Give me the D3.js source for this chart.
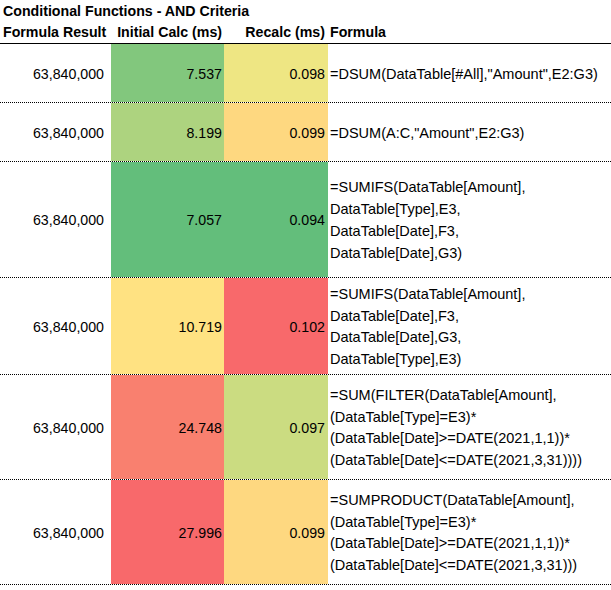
<!DOCTYPE html>
<html>
<head>
<meta charset="utf-8">
<script src="https://cdn.jsdelivr.net/npm/d3@7"></script>
<style>
  html, body { margin: 0; padding: 0; background: #fff; }
  svg { display: block; }
  text { font-family: "Liberation Sans", Arial, sans-serif; fill: #000; }
</style>
</head>
<body>
<svg id="chart" width="611" height="590"></svg>
<script>
// ---- data ----
const title = "Conditional Functions - AND Criteria";
const headers = ["Formula Result", "Initial Calc (ms)", "Recalc (ms)", "Formula"];
const formulaResults = [63840000, 63840000, 63840000, 63840000, 63840000, 63840000];
const initialCalc = [7.537, 8.199, 7.057, 10.719, 24.748, 27.996];
const recalc = [0.098, 0.099, 0.094, 0.102, 0.097, 0.099];
const formulas = [
  ["=DSUM(DataTable[#All],\"Amount\",E2:G3)"],
  ["=DSUM(A:C,\"Amount\",E2:G3)"],
  ["=SUMIFS(DataTable[Amount],", "DataTable[Type],E3,", "DataTable[Date],F3,", "DataTable[Date],G3)"],
  ["=SUMIFS(DataTable[Amount],", "DataTable[Date],F3,", "DataTable[Date],G3,", "DataTable[Type],E3)"],
  ["=SUM(FILTER(DataTable[Amount],", "(DataTable[Type]=E3)*", "(DataTable[Date]>=DATE(2021,1,1))*", "(DataTable[Date]<=DATE(2021,3,31))))"],
  ["=SUMPRODUCT(DataTable[Amount],", "(DataTable[Type]=E3)*", "(DataTable[Date]>=DATE(2021,1,1))*", "(DataTable[Date]<=DATE(2021,3,31)))"]
];

// ---- layout (positions / styles) ----
const W = 611, H = 590;
const fontSize = 14.2;
const formulaFontSize = 14.5;
const columns = ["result", "initial", "recalc", "formula"];
const colLeft = [0, 111, 224, 328];
const colRight = [111, 224, 328, 611];
const rowHeights = [59, 59, 116, 97, 105, 105];
const headerLineY = 43;
const lineSpacing = 21.7;
const colorStops = ["#63BE7B", "#FFEB84", "#F8696B"];

const svg = d3.select("#chart");

const xLeft = d3.scaleOrdinal().domain(columns).range(colLeft);
const xRight = d3.scaleOrdinal().domain(columns).range(colRight);

const rowIdx = d3.range(rowHeights.length);
const rowTops = rowIdx.map(i => headerLineY + d3.sum(rowHeights.slice(0, i)));
const yTop = d3.scaleOrdinal().domain(rowIdx).range(rowTops);
const yBottom = d3.scaleOrdinal().domain(rowIdx).range(rowTops.map((t, i) => t + rowHeights[i]));
const yMid = i => (yTop(i) + yBottom(i)) / 2;

function colorScale(vals) {
  return d3.scaleLinear()
    .domain([d3.min(vals), d3.median(vals), d3.max(vals)])
    .range(colorStops)
    .interpolate(d3.interpolateRgb);
}
const cInit = colorScale(initialCalc);
const cRecalc = colorScale(recalc);

// colored cells
const cellG = svg.append("g");
cellG.selectAll("rect.init").data(initialCalc).join("rect")
  .attr("x", xLeft("initial")).attr("width", xRight("initial") - xLeft("initial"))
  .attr("y", (d, i) => yTop(i) + 1).attr("height", (d, i) => rowHeights[i] - 1)
  .attr("fill", d => cInit(d));
cellG.selectAll("rect.recalc").data(recalc).join("rect")
  .attr("x", xLeft("recalc")).attr("width", xRight("recalc") - xLeft("recalc"))
  .attr("y", (d, i) => yTop(i) + 1).attr("height", (d, i) => rowHeights[i] - 1)
  .attr("fill", d => cRecalc(d));

// lines
svg.append("line").attr("x1", 0).attr("x2", W)
  .attr("y1", headerLineY + 0.5).attr("y2", headerLineY + 0.5)
  .attr("stroke", "#000").attr("stroke-width", 1);
svg.append("g").selectAll("line").data(rowIdx).join("line")
  .attr("x1", 0).attr("x2", W)
  .attr("y1", i => yBottom(i) + 0.5).attr("y2", i => yBottom(i) + 0.5)
  .attr("stroke", "#000").attr("stroke-width", 1)
  .attr("stroke-dasharray", "1,1");

// title and headers
svg.append("text").attr("x", 3).attr("y", 16)
  .attr("font-size", fontSize).attr("font-weight", "bold").text(title);
const hdrY = 37;
svg.append("text").attr("x", 3).attr("y", hdrY).attr("font-size", fontSize).attr("font-weight", "bold").text(headers[0]);
svg.append("text").attr("x", xRight("initial") - 2).attr("y", hdrY).attr("text-anchor", "end").attr("font-size", fontSize).attr("font-weight", "bold").text(headers[1]);
svg.append("text").attr("x", xRight("recalc") - 3).attr("y", hdrY).attr("text-anchor", "end").attr("font-size", fontSize).attr("font-weight", "bold").text(headers[2]);
svg.append("text").attr("x", xLeft("formula") + 2).attr("y", hdrY).attr("font-size", fontSize).attr("font-weight", "bold").text(headers[3]);

const fmtInt = d3.format(",");
const fmt3 = d3.format(".3f");
const baseOff = 6;

svg.append("g").selectAll("text").data(formulaResults).join("text")
  .attr("x", 104).attr("y", (d, i) => yMid(i) + baseOff)
  .attr("text-anchor", "end").attr("font-size", fontSize).text(d => fmtInt(d));
svg.append("g").selectAll("text").data(initialCalc).join("text")
  .attr("x", xRight("initial") - 2).attr("y", (d, i) => yMid(i) + baseOff)
  .attr("text-anchor", "end").attr("font-size", fontSize).text(d => fmt3(d));
svg.append("g").selectAll("text").data(recalc).join("text")
  .attr("x", xRight("recalc") - 3).attr("y", (d, i) => yMid(i) + baseOff)
  .attr("text-anchor", "end").attr("font-size", fontSize).text(d => fmt3(d));

svg.append("g").selectAll("text").data(formulas).join("text")
  .attr("font-size", formulaFontSize)
  .each(function (lines, i) {
    const n = lines.length;
    const y0 = yMid(i) + baseOff - (n - 1) * lineSpacing / 2;
    d3.select(this).selectAll("tspan").data(lines).join("tspan")
      .attr("x", xLeft("formula") + 2)
      .attr("y", (l, j) => y0 + j * lineSpacing)
      .text(l => l);
  });
</script>
</body>
</html>
